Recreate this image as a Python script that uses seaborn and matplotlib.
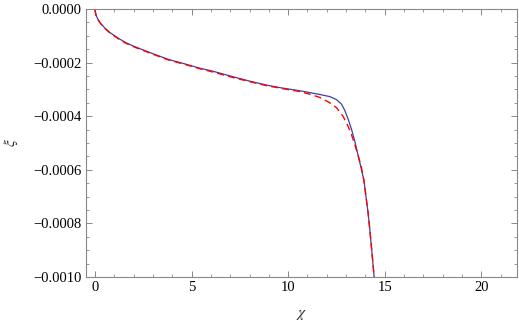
import numpy as np
import pandas as pd
import matplotlib
matplotlib.use("Agg")
import matplotlib.pyplot as plt
import matplotlib.ticker as mticker
import seaborn as sns

# values (chi, xi)
chi_blue = [0.0, 0.002, 0.01, 0.04, 0.09, 0.17, 0.3, 0.52, 0.75, 1.2, 1.6, 2.07, 2.5, 2.93,
            3.79, 4.66, 5.43, 6.04, 7.16, 8.0, 8.88, 9.7, 10.6, 11.12, 11.64, 12.16, 12.5,
            12.76, 12.93, 13.1, 13.28, 13.45, 13.59, 13.75, 13.92, 14.03, 14.14, 14.23,
            14.31, 14.38, 14.45]
xi_blue = [0.0, -0.0000045, -0.00001, -0.00002, -0.00003, -0.000041, -0.000055, -0.000072,
           -0.000087, -0.000109, -0.000126, -0.000141, -0.000153, -0.000165, -0.000188,
           -0.000205, -0.000221, -0.000231, -0.000253, -0.000269, -0.000284, -0.000295,
           -0.000305, -0.000312, -0.000319, -0.000327, -0.000338, -0.000355, -0.000378,
           -0.000410, -0.000449, -0.000493, -0.000537, -0.000585, -0.000638, -0.000700,
           -0.000762, -0.000825, -0.000887, -0.000942, -0.000999]

chi_red = [0.0, 0.002, 0.01, 0.04, 0.09, 0.17, 0.3, 0.52, 0.75, 1.2, 1.6, 2.07, 2.5, 2.93,
           3.79, 4.66, 5.43, 6.04, 7.16, 8.0, 8.88, 9.7, 10.6, 11.12, 11.64, 12.16, 12.5,
           12.84, 13.1, 13.28, 13.45, 13.62, 13.79, 13.92, 14.03, 14.14, 14.23, 14.31,
           14.38, 14.45]
xi_red = [0.0, -0.0000045, -0.00001, -0.00002, -0.00003, -0.000042, -0.000056, -0.000073,
          -0.000088, -0.000111, -0.000128, -0.000143, -0.000155, -0.000167, -0.000190,
          -0.000207, -0.000223, -0.000234, -0.000256, -0.000271, -0.000286, -0.000297,
          -0.000308, -0.000318, -0.000330, -0.000350, -0.000368, -0.000400, -0.000437,
          -0.000469, -0.000506, -0.000546, -0.000590, -0.000638, -0.000700, -0.000762,
          -0.000825, -0.000887, -0.000942, -0.000999]

x_ticks = [0, 5, 10, 15, 20]
y_ticks = [0.0, -0.0002, -0.0004, -0.0006, -0.0008, -0.0010]

sns.set_style("ticks")
plt.rcParams["font.family"] = ["Liberation Serif", "DejaVu Serif"]
plt.rcParams["mathtext.fontset"] = "stix"

df_blue = pd.DataFrame({"chi": chi_blue, "xi": xi_blue})
df_red = pd.DataFrame({"chi": chi_red, "xi": xi_red})

fig = plt.figure(figsize=(5.19, 3.27), dpi=100)
ax = fig.add_axes([86 / 519, 1 - 277 / 327, 431 / 519, 268 / 327])

sns.lineplot(data=df_blue, x="chi", y="xi", ax=ax, color="#3f3fa8", linewidth=0.9,
             sort=False, estimator=None)
sns.lineplot(data=df_red, x="chi", y="xi", ax=ax, color="#ff0000", linewidth=1.0,
             sort=False, estimator=None, linestyle=(0, (5, 3)))

ax.set_xlim(-0.47, 21.85)
ax.set_ylim(-0.0010, 0.0)
ax.set_xticks(x_ticks)
ax.set_yticks(y_ticks)
ax.xaxis.set_minor_locator(mticker.MultipleLocator(1))
ax.yaxis.set_minor_locator(mticker.MultipleLocator(0.00005))
ax.yaxis.set_major_formatter(mticker.FuncFormatter(
    lambda v, p: f"{v:.4f}".replace("-", "\u2212") if abs(v) > 1e-12 else "0.0000"))

for s in ax.spines.values():
    s.set_color("#888888")
    s.set_linewidth(0.8)
ax.tick_params(which="both", direction="in", top=True, right=True, color="#888888",
               labelsize=10.5, labelcolor="black", pad=3)
ax.tick_params(which="major", length=4, width=0.7)
ax.tick_params(which="minor", length=2.3, width=0.6)

ax.set_xlabel(r"$\chi$", fontsize=11, labelpad=10)
ax.set_ylabel(r"$\xi$", fontsize=11, labelpad=10)

fig.savefig("out.png", dpi=100)
